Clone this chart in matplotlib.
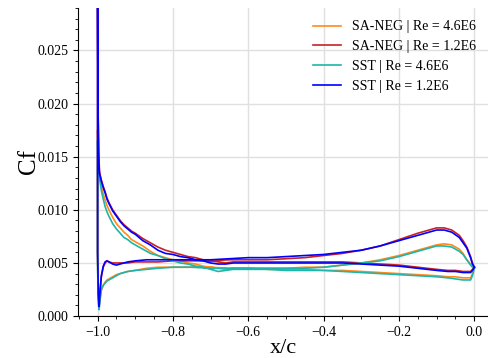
import numpy as np
import matplotlib
matplotlib.use('Agg')
import matplotlib.pyplot as plt
from matplotlib.ticker import AutoMinorLocator, MultipleLocator

plt.rcParams['font.family'] = ['Liberation Serif', 'DejaVu Serif']

# branch starting high at the leading edge
xa = [-1.0, -0.999, -0.997, -0.995, -0.99, -0.985, -0.98, -0.975, -0.97, -0.96,
      -0.95, -0.94, -0.93, -0.92, -0.91, -0.9, -0.88, -0.86, -0.84, -0.82,
      -0.8, -0.78, -0.76, -0.74, -0.72, -0.7, -0.68, -0.66, -0.64, -0.6,
      -0.55, -0.5, -0.45, -0.4, -0.35, -0.3, -0.25, -0.2, -0.15, -0.1,
      -0.07, -0.05, -0.03, -0.02, -0.01, -0.005, 0.0]

sa46_a = [0.0175, 0.0160, 0.0145, 0.0133, 0.0122, 0.0115, 0.0109, 0.0104, 0.0100, 0.0093,
          0.0087, 0.0083, 0.0079, 0.0076, 0.0072, 0.0070, 0.0066, 0.0061, 0.0057, 0.0055,
          0.0053, 0.0052, 0.0050, 0.0049, 0.0047, 0.0046, 0.0045, 0.0044, 0.0045, 0.0045,
          0.0044, 0.0044, 0.0044, 0.0043, 0.0043, 0.0042, 0.0041, 0.0040, 0.0039, 0.0038,
          0.0037, 0.0037, 0.0036, 0.0036, 0.0036, 0.0040, 0.0046]
sa12_a = [0.0300, 0.0200, 0.0155, 0.0136, 0.0128, 0.0122, 0.0117, 0.0111, 0.0107, 0.0100,
          0.0095, 0.0090, 0.0086, 0.0083, 0.0080, 0.0078, 0.0073, 0.0069, 0.0065, 0.0062,
          0.0060, 0.0058, 0.0056, 0.0055, 0.0053, 0.0052, 0.0051, 0.0050, 0.0051, 0.0051,
          0.0051, 0.0051, 0.0051, 0.0051, 0.0051, 0.0050, 0.0049, 0.0048, 0.0046, 0.0044,
          0.0043, 0.0043, 0.0042, 0.0042, 0.0042, 0.0044, 0.0046]
sst46_a = [0.0165, 0.0150, 0.0140, 0.0130, 0.0118, 0.0110, 0.0103, 0.0098, 0.0094, 0.0087,
           0.0082, 0.0078, 0.0074, 0.0072, 0.0069, 0.0067, 0.0063, 0.0059, 0.0057, 0.0054,
           0.0052, 0.0050, 0.0049, 0.0047, 0.0046, 0.0044, 0.0042, 0.0043, 0.0044, 0.0044,
           0.0044, 0.0043, 0.0043, 0.0043, 0.0042, 0.0041, 0.0040, 0.0039, 0.0038, 0.0037,
           0.0036, 0.0035, 0.0034, 0.0034, 0.0034, 0.0038, 0.0045]
sst12_a = [0.0300, 0.0200, 0.0150, 0.0134, 0.0127, 0.0121, 0.0116, 0.0110, 0.0106, 0.0099,
           0.0094, 0.0089, 0.0085, 0.0082, 0.0079, 0.0077, 0.0071, 0.0067, 0.0062, 0.0059,
           0.0058, 0.0056, 0.0055, 0.0053, 0.0052, 0.0050, 0.0049, 0.0049, 0.0050, 0.0050,
           0.0050, 0.0050, 0.0050, 0.0050, 0.0050, 0.0049, 0.0048, 0.0047, 0.0045, 0.0043,
           0.0042, 0.0042, 0.0041, 0.0041, 0.0041, 0.0043, 0.0046]

# branch starting low at the leading edge
xb = [-1.0, -0.998, -0.996, -0.993, -0.99, -0.985, -0.98, -0.975, -0.97, -0.96,
      -0.95, -0.94, -0.92, -0.9, -0.87, -0.84, -0.8, -0.75, -0.7, -0.65,
      -0.6, -0.55, -0.5, -0.45, -0.4, -0.35, -0.3, -0.25, -0.2, -0.15,
      -0.12, -0.1, -0.08, -0.06, -0.04, -0.03, -0.02, -0.01, -0.005, 0.0]

sa46_b = [0.0050, 0.0015, 0.0008, 0.0016, 0.0024, 0.0029, 0.0032, 0.0034, 0.0035, 0.0037,
          0.0039, 0.0040, 0.0042, 0.0043, 0.0045, 0.0046, 0.0046, 0.0046, 0.0046, 0.0045,
          0.0045, 0.0045, 0.0045, 0.0046, 0.0046, 0.0048, 0.0050, 0.0053, 0.0057, 0.0062,
          0.0065, 0.0067, 0.0068, 0.0067, 0.0063, 0.0059, 0.0053, 0.0049, 0.0047, 0.0046]
sa12_b = [0.0060, 0.0020, 0.0010, 0.0026, 0.0037, 0.0046, 0.0050, 0.0052, 0.0051, 0.0050,
          0.0050, 0.0050, 0.0050, 0.0051, 0.0051, 0.0051, 0.0052, 0.0052, 0.0052, 0.0053,
          0.0053, 0.0053, 0.0054, 0.0055, 0.0057, 0.0059, 0.0062, 0.0066, 0.0072, 0.0078,
          0.0081, 0.0083, 0.0083, 0.0081, 0.0076, 0.0071, 0.0065, 0.0056, 0.0050, 0.0046]
sst46_b = [0.0045, 0.0012, 0.0006, 0.0018, 0.0025, 0.0029, 0.0031, 0.0033, 0.0034, 0.0036,
           0.0038, 0.0040, 0.0042, 0.0043, 0.0044, 0.0045, 0.0046, 0.0046, 0.0045, 0.0045,
           0.0045, 0.0045, 0.0045, 0.0045, 0.0046, 0.0048, 0.0050, 0.0052, 0.0056, 0.0061,
           0.0064, 0.0066, 0.0066, 0.0065, 0.0061, 0.0058, 0.0053, 0.0048, 0.0046, 0.0045]
sst12_b = [0.0060, 0.0020, 0.0009, 0.0025, 0.0038, 0.0047, 0.0051, 0.0052, 0.0051, 0.0049,
           0.0048, 0.0049, 0.0051, 0.0052, 0.0053, 0.0053, 0.0053, 0.0053, 0.0053, 0.0054,
           0.0055, 0.0055, 0.0056, 0.0057, 0.0058, 0.0060, 0.0062, 0.0066, 0.0071, 0.0076,
           0.0079, 0.0081, 0.0081, 0.0079, 0.0074, 0.0069, 0.0064, 0.0055, 0.0049, 0.0046]

labels = ['SA-NEG | Re = 4.6E6', 'SA-NEG | Re = 1.2E6', 'SST | Re = 4.6E6', 'SST | Re = 1.2E6']
colors = ['#ff8a1c', '#c8202a', '#1fb5a8', '#0000ff']
series = [(sa46_a, sa46_b), (sa12_a, sa12_b), (sst46_a, sst46_b), (sst12_a, sst12_b)]

fig = plt.figure(figsize=(4.89, 3.58), dpi=100)
ax = fig.add_axes([0.1595, 0.117, 0.839, 0.861])

for (ya, yb), lab, c in zip(series, labels, colors):
    # trailing edge -> leading edge on one side, then back along the other
    x = list(xa[::-1]) + list(xb)
    y = list(ya[::-1]) + list(yb)
    ax.plot(x, y, color=c, lw=1.2, label=lab)

ax.set_xlim(-1.052, 0.037)
ax.set_ylim(0, 0.029)
ax.xaxis.set_major_locator(MultipleLocator(0.2))
ax.yaxis.set_major_locator(MultipleLocator(0.005))
ax.xaxis.set_minor_locator(AutoMinorLocator())
ax.yaxis.set_minor_locator(AutoMinorLocator())
ax.yaxis.set_major_formatter(plt.FormatStrFormatter('%.3f'))
ax.grid(True, color='#e0e0e0', lw=1.0)
ax.set_axisbelow(True)
for s in ['top', 'right']:
    ax.spines[s].set_visible(False)
ax.tick_params(labelsize=10)
ax.set_xlabel('x/c', fontsize=16, labelpad=0)
ax.set_ylabel('Cf', fontsize=18, labelpad=-2)
ax.legend(loc='upper right', frameon=False, fontsize=10)

fig.savefig('out.png', dpi=100)
